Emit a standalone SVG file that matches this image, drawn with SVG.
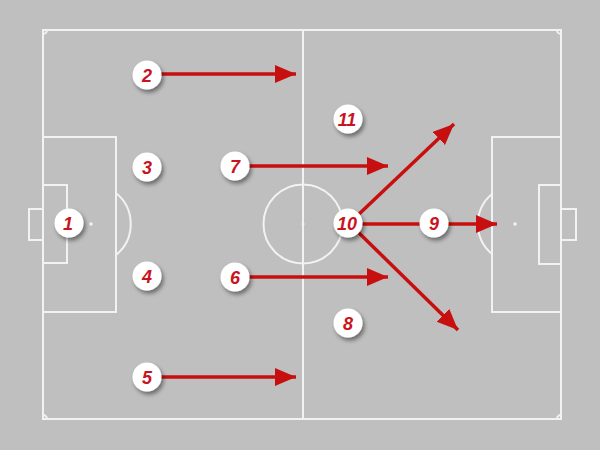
<svg xmlns="http://www.w3.org/2000/svg" width="600" height="450" viewBox="0 0 600 450">
<style>
.ln{fill:none;stroke:#f2f2f2;stroke-width:2}
.ar{fill:none;stroke:#c80f0f;stroke-width:3.5;marker-end:url(#ah)}
.pc{fill:#ffffff;filter:url(#sh)}
.pt{font-family:"Liberation Sans",Arial,sans-serif;font-weight:bold;font-style:italic;font-size:18px;fill:#c8141e;text-anchor:middle}
</style>
<defs>
<marker id="ah" markerUnits="userSpaceOnUse" markerWidth="22" markerHeight="20" refX="21" refY="9" orient="auto">
<path d="M0,0 L21,9 L0,18 Z" fill="#c80f0f"/>
</marker>
<filter id="sh" x="-50%" y="-50%" width="200%" height="200%">
<feDropShadow dx="2" dy="3" stdDeviation="2" flood-color="#000" flood-opacity="0.45"/>
</filter>
</defs>
<rect width="600" height="450" fill="#bfbfbf"/>
<g id="pitch">
<rect class="ln" x="43" y="30" width="518" height="389"/>
<line class="ln" x1="303" y1="30" x2="303" y2="419"/>
<circle class="ln" cx="303" cy="224" r="39.5"/>
<circle cx="303" cy="224" r="1.5" fill="#f2f2f2"/>
<rect class="ln" x="43" y="137" width="73" height="175"/>
<rect class="ln" x="43" y="185" width="24" height="78"/>
<rect class="ln" x="29" y="209" width="14" height="31"/>
<circle cx="91" cy="224" r="1.8" fill="#f2f2f2"/>
<path class="ln" d="M116,193 A40,40 0 0 1 116,255"/>
<rect class="ln" x="492" y="137" width="69" height="175"/>
<rect class="ln" x="539" y="185" width="22" height="79"/>
<rect class="ln" x="561" y="209" width="15" height="31"/>
<circle cx="515" cy="224" r="1.8" fill="#f2f2f2"/>
<path class="ln" d="M492,194 A39,39 0 0 0 492,254"/>
<path class="ln" d="M43,34 A4,4 0 0 0 47,30"/>
<path class="ln" d="M557,30 A4,4 0 0 0 561,34"/>
<path class="ln" d="M43,415 A4,4 0 0 1 47,419"/>
<path class="ln" d="M557,419 A4,4 0 0 1 561,415"/>
</g>
<g id="connectors">
<line class="ar" x1="160" y1="74" x2="296" y2="74"/>
<line class="ar" x1="248" y1="166" x2="388" y2="166"/>
<line class="ar" x1="248" y1="277" x2="388" y2="277"/>
<line class="ar" x1="160" y1="377" x2="296" y2="377"/>
<line class="ar" x1="358" y1="215" x2="454" y2="124"/>
<line class="ar" x1="358" y1="232" x2="458" y2="330"/>
<line class="ar" x1="360" y1="224" x2="497" y2="224"/>
</g>
<g id="p1"><circle class="pc" cx="69" cy="223" r="14.5"/><text class="pt" x="68" y="229.5">1</text></g>
<g id="p2"><circle class="pc" cx="147" cy="75" r="14.5"/><text class="pt" x="147" y="81.5">2</text></g>
<g id="p3"><circle class="pc" cx="147" cy="167" r="14.5"/><text class="pt" x="147" y="173.5">3</text></g>
<g id="p4"><circle class="pc" cx="147" cy="276" r="14.5"/><text class="pt" x="147" y="282.5">4</text></g>
<g id="p5"><circle class="pc" cx="147" cy="377" r="14.5"/><text class="pt" x="147" y="383.5">5</text></g>
<g id="p6"><circle class="pc" cx="235" cy="277" r="14.5"/><text class="pt" x="235" y="283.5">6</text></g>
<g id="p7"><circle class="pc" cx="235" cy="166" r="14.5"/><text class="pt" x="235" y="172.5">7</text></g>
<g id="p8"><circle class="pc" cx="348" cy="323" r="14.5"/><text class="pt" x="348" y="329.5">8</text></g>
<g id="p9"><circle class="pc" cx="434" cy="223" r="14.5"/><text class="pt" x="434" y="229.5">9</text></g>
<g id="p10"><circle class="pc" cx="348" cy="223" r="14.5"/><text class="pt" x="347" y="229.5">10</text></g>
<g id="p11"><circle class="pc" cx="348" cy="119" r="14.5"/><text class="pt" x="347" y="125.5">11</text></g>
</svg>
